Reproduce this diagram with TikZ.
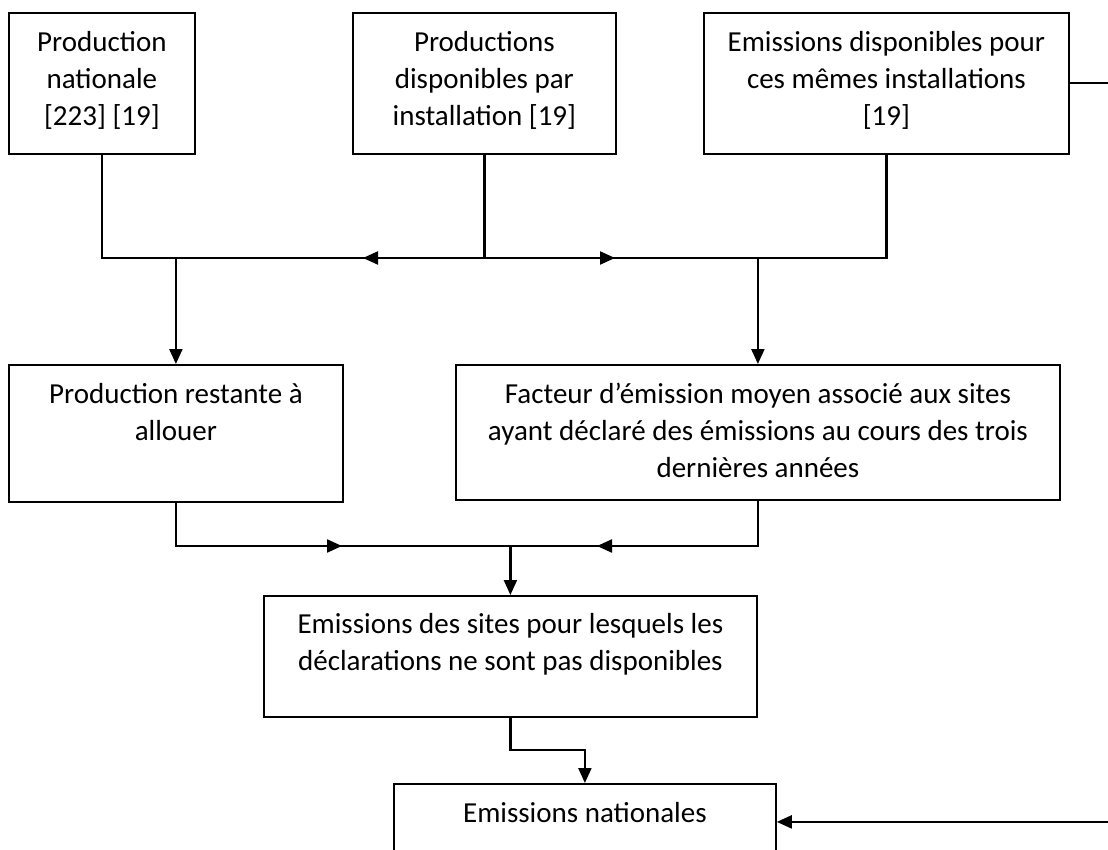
\documentclass[tikz,border=0pt]{standalone}
\usepackage{fontspec}
\setmainfont{Carlito}
\usetikzlibrary{arrows.meta}

\tikzset{
  box/.style={draw=black, line width=1.8pt, inner sep=0pt, anchor=north west},
  txt/.style={anchor=base, align=center, inner sep=0pt,
              font=\fontsize{29}{37}\selectfont},
  wire/.style={draw=black, line width=2.2pt},
  arr/.style={wire, -{Triangle[length=15pt,width=13pt]}},
}

\begin{document}
\begin{tikzpicture}[x=1pt, y=-1pt]
  \useasboundingbox (0,0) rectangle (1108,850);
  \clip (0,0) rectangle (1108,850);
  \fill[white] (0,0) rectangle (1108,850);

  % boxes
  \node[box, minimum width=186pt, minimum height=141pt] (b1) at (8,12) {};
  \node[box, minimum width=263pt, minimum height=141pt] (b2) at (352,12) {};
  \node[box, minimum width=365pt, minimum height=141pt] (b3) at (703,12) {};
  \node[box, minimum width=334pt, minimum height=137pt] (b4) at (8,364) {};
  \node[box, minimum width=604pt, minimum height=135pt] (b5) at (455,364) {};
  \node[box, minimum width=493pt, minimum height=121pt] (b6) at (263,595) {};
  \node[box, minimum width=382pt, minimum height=76pt] (b7) at (393,783) {};

  % box texts (anchored on the baseline of their last line)
  \node[txt] (t1) at ([yshift=-114pt]b1.north) {Production\\nationale\\{[223] [19]}};
  \node[txt] (t2) at ([yshift=-114pt]b2.north) {Productions\\disponibles par\\installation [19]};
  \node[txt] (t3) at ([yshift=-114pt]b3.north) {Emissions disponibles pour\\ces mêmes installations\\{[19]}};
  \node[txt] (t4) at ([yshift=-76pt]b4.north) {Production restante à\\allouer};
  \node[txt] (t5) at ([yshift=-113pt]b5.north) {Facteur d’émission moyen associé aux sites\\ayant déclaré des émissions au cours des trois\\dernières années};
  \node[txt] (t6) at ([yshift=-75pt]b6.north) {Emissions des sites pour lesquels les\\déclarations ne sont pas disponibles};
  \node[txt] (t7) at ([yshift=-39pt]b7.north) {Emissions nationales};

  % junction points
  \coordinate (j1) at (b2.south |- 0,258);
  \coordinate (m1l) at (363,258);
  \coordinate (m1r) at (615,258);
  \coordinate (j2) at (b6.north |- 0,546);
  \coordinate (m2l) at (342,546);
  \coordinate (m2r) at (597,546);
  \coordinate (j3) at (b6.south |- 0,750);

  % upper collector
  \draw[wire] (b1.south) |- (j1);
  \draw[wire] (b2.south) -- (j1);
  \draw[wire] (b3.south) |- (j1);
  \draw[arr] (j1) -- (m1l);
  \draw[arr] (j1) -- (m1r);
  \draw[arr] (b4.north |- j1) -- (b4.north);
  \draw[arr] (b5.north |- j1) -- (b5.north);

  % lower collector
  \draw[wire] (b4.south) |- (j2);
  \draw[wire] (b5.south) |- (j2);
  \draw[arr] (b4.south |- j2) -- (m2l);
  \draw[arr] (b5.south |- j2) -- (m2r);
  \draw[arr] (j2) -- (b6.north);

  % to national emissions
  \draw[arr] (b6.south) -- (j3) -| (b7.north);
  \draw[arr] (b3.east) -- ++(60,0) |- (b7.east);
\end{tikzpicture}
\end{document}
